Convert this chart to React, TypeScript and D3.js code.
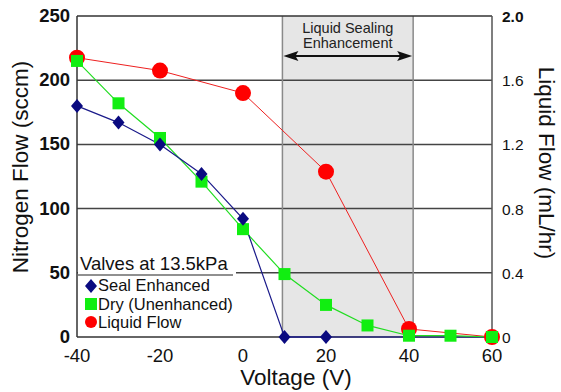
import React from "react"
import * as d3 from "d3"

const voltages = [-40, -30, -20, -10, 0, 10, 20, 30, 40, 50, 60]
const sealVolts = [-40, -30, -20, -10, 0, 10, 20]
const sealFlow = [180, 167, 150, 127, 92, 0, 0]
const dryFlow = [215, 182, 155, 121, 84, 49, 25, 9, 1, 1, 0]
const liquidVolts = [-40, -20, 0, 20, 40, 60]
const liquidFlow = [1.74, 1.66, 1.52, 1.03, 0.05, 0]
const xTicks = [-40, -20, 0, 20, 40, 60]
const leftTicks = [0, 50, 100, 150, 200, 250]
const rightTicks = ["0", "0.4", "0.8", "1.2", "1.6", "2.0"]
const shadeRange = [9.5, 41]

const W = 561
const H = 392
const margin = { top: 16, right: 69, bottom: 55, left: 77 }
const font = "Liberation Sans, Arial, sans-serif"

export default function App() {
  const x = d3.scaleLinear().domain([-40, 60]).range([margin.left, W - margin.right])
  const y = d3.scaleLinear().domain([0, 250]).range([H - margin.bottom, margin.top])
  const y2 = d3.scaleLinear().domain([0, 2]).range([H - margin.bottom, margin.top])

  const line = d3.line<[number, number]>().x(d => d[0]).y(d => d[1])
  const sealPts: [number, number][] = sealVolts.map((v, i) => [x(v), y(sealFlow[i])])
  const dryPts: [number, number][] = voltages.map((v, i) => [x(v), y(dryFlow[i])])
  const liqPts: [number, number][] = liquidVolts.map((v, i) => [x(v), y2(liquidFlow[i])])

  const x0 = margin.left
  const x1 = W - margin.right
  const y0 = H - margin.bottom
  const yTop = margin.top
  const sx0 = x(shadeRange[0])
  const sx1 = x(shadeRange[1])
  const arrowY = 56

  const diamond = (cx: number, cy: number) =>
    `M${cx},${cy - 7}L${cx + 6},${cy}L${cx},${cy + 7}L${cx - 6},${cy}Z`

  return (
    <svg width={W} height={H} style={{ position: "absolute", left: 0, top: 0 }} fontFamily={font}>
      <rect x={0} y={0} width={W} height={H} fill="white" />
      {/* shaded sealing region */}
      <rect x={sx0} y={yTop} width={sx1 - sx0} height={y0 - yTop} fill="#e6e6e6" />
      {/* grid */}
      {leftTicks.slice(1, -1).map(t => (
        <line key={t} x1={x0} x2={x1} y1={y(t)} y2={y(t)} stroke="#444" strokeWidth={1.5} />
      ))}
      <line x1={sx0} x2={sx0} y1={yTop} y2={y0} stroke="#8a8a8a" strokeWidth={1.5} />
      <line x1={sx1} x2={sx1} y1={yTop} y2={y0} stroke="#8a8a8a" strokeWidth={1.5} />
      {/* frame */}
      <line x1={x0} x2={x1} y1={yTop} y2={yTop} stroke="#333" strokeWidth={1.5} />
      <line x1={x1} x2={x1} y1={yTop} y2={y0} stroke="#555" strokeWidth={1.5} />
      <line x1={x0} x2={x0} y1={yTop} y2={y0} stroke="#333" strokeWidth={1.5} />
      <line x1={x0} x2={x1} y1={y0} y2={y0} stroke="#333" strokeWidth={1.5} />
      <line x1={x(10)} x2={x1} y1={y0} y2={y0} stroke="#1a1a9a" strokeWidth={1.2} />

      {/* shaded label */}
      <text x={(sx0 + sx1) / 2} y={33} textAnchor="middle" fontSize={14.5} fill="#222">Liquid Sealing</text>
      <text x={(sx0 + sx1) / 2} y={48} textAnchor="middle" fontSize={14.5} fill="#222">Enhancement</text>
      <line x1={sx0 + 8} x2={sx1 - 8} y1={arrowY} y2={arrowY} stroke="#111" strokeWidth={2} />
      <path d={`M${sx0 + 1},${arrowY}L${sx0 + 16},${arrowY - 5}L${sx0 + 13},${arrowY}L${sx0 + 16},${arrowY + 5}Z`} fill="#111" />
      <path d={`M${sx1 - 1},${arrowY}L${sx1 - 16},${arrowY - 5}L${sx1 - 13},${arrowY}L${sx1 - 16},${arrowY + 5}Z`} fill="#111" />

      {/* lines */}
      <path d={line(liqPts) || ""} fill="none" stroke="#ee2020" strokeWidth={1} />
      <path d={line(dryPts) || ""} fill="none" stroke="#22dd22" strokeWidth={1.2} />
      <path d={line(sealPts) || ""} fill="none" stroke="#1a1a8a" strokeWidth={1.2} />

      {/* markers */}
      {liqPts.map((p, i) => (
        <circle key={"l" + i} cx={p[0]} cy={p[1]} r={8} fill="#ff0000" />
      ))}
      {dryPts.map((p, i) => (
        <rect key={"d" + i} x={p[0] - 6} y={p[1] - 6} width={12} height={12} fill="#11ee11" />
      ))}
      {sealPts.map((p, i) => (
        <path key={"s" + i} d={diamond(p[0], p[1])} fill="#0a0a80" />
      ))}

      {/* legend */}
      <rect x={x0 + 1} y={252} width={158} height={y0 - 253} fill="white" />
      <text x={80} y={270} fontSize={18.5} fill="#111">Valves at 13.5kPa</text>
      <line x1={x0 + 1} x2={233} y1={275} y2={275} stroke="#222" strokeWidth={1.2} />
      <path d={diamond(91, 286)} fill="#0a0a80" />
      <text x={98} y={291} fontSize={16.5} fill="#111">Seal Enhanced</text>
      <rect x={85} y={298} width={12} height={12} fill="#11ee11" />
      <text x={98} y={310} fontSize={16.5} fill="#111">Dry (Unenhanced)</text>
      <circle cx={91} cy={322} r={6} fill="#ff0000" />
      <text x={98} y={328} fontSize={16.5} fill="#111">Liquid Flow</text>

      {/* left ticks */}
      {leftTicks.map(t => (
        <text key={t} x={70} y={y(t) + 6} textAnchor="end" fontSize={18.5} fontWeight="bold" fill="#111">{t}</text>
      ))}
      {/* right ticks */}
      {rightTicks.map((t, i) => (
        <text key={t} x={502} y={y2(+t) + 6} fontSize={15.5} fill="#111" fontWeight={i === 5 ? "bold" : "normal"}>{t}</text>
      ))}
      {/* bottom ticks */}
      {xTicks.map(t => (
        <text key={t} x={x(t)} y={362} textAnchor="middle" fontSize={18.5} fill="#111">{t}</text>
      ))}

      {/* titles */}
      <text x={296} y={385} textAnchor="middle" fontSize={22.5} fill="#111">Voltage (V)</text>
      <text transform={`translate(28,167) rotate(-90)`} textAnchor="middle" fontSize={22.5} fill="#111">Nitrogen Flow (sccm)</text>
      <text transform={`translate(539,163) rotate(90)`} textAnchor="middle" fontSize={22.5} fill="#111">Liquid Flow (mL/hr)</text>
    </svg>
  )
}
